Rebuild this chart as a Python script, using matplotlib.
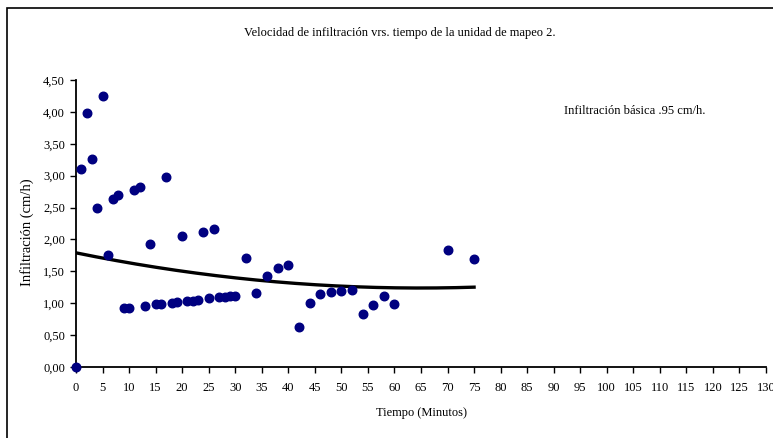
import numpy as np
import matplotlib
matplotlib.use("Agg")
import matplotlib.pyplot as plt
from matplotlib.patches import Rectangle
from matplotlib.ticker import FuncFormatter, MultipleLocator

plt.rcParams['font.family'] = ['Liberation Serif', 'DejaVu Serif']

tiempo = [0, 1, 2, 3, 4, 5, 6, 7, 8, 9, 10, 11, 12, 13, 14, 15, 16, 17, 18, 19,
          20, 21, 22, 23, 24, 25, 26, 27, 28, 29, 30,
          32, 34, 36, 38, 40, 42, 44, 46, 48, 50, 52, 54, 56, 58, 60, 70, 75]
infiltracion = [0.00, 3.11, 3.99, 3.26, 2.50, 4.25, 1.75, 2.64, 2.69, 0.92, 0.92,
                2.77, 2.83, 0.96, 1.93, 0.98, 0.98, 2.98, 1.01, 1.02,
                2.05, 1.04, 1.04, 1.05, 2.12, 1.08, 2.16, 1.10, 1.10, 1.11, 1.12,
                1.71, 1.16, 1.43, 1.56, 1.60, 0.63, 1.01, 1.15, 1.18, 1.19, 1.20,
                0.83, 0.97, 1.12, 0.99, 1.83, 1.69]

# polynomial trendline coefficients (highest power first)
tendencia_coef = [0.000131, -0.0170, 1.79]

titulo = "Velocidad de infiltración vrs. tiempo de la unidad de mapeo 2."
nota = "Infiltración básica .95 cm/h."
xlabel = "Tiempo (Minutos)"
ylabel = "Infiltración (cm/h)"

W, H = 773, 438
fig = plt.figure(figsize=(W / 100, H / 100), dpi=100)
ax = fig.add_axes([76 / W, (H - 367) / H, (766 - 76) / W, (367 - 80) / H])

ax.scatter(tiempo, infiltracion, s=38, color='#000080', zorder=3, clip_on=False)

xs = np.linspace(min(tiempo), max(tiempo), 200)
ax.plot(xs, np.polyval(tendencia_coef, xs), color='black', lw=2.4, zorder=2)

ax.set_xlim(0, 130)
ax.set_ylim(0, 4.5)
ax.xaxis.set_major_locator(MultipleLocator(5))
ax.yaxis.set_major_locator(MultipleLocator(0.5))
ax.yaxis.set_major_formatter(FuncFormatter(lambda v, p: f"{v:.2f}".replace('.', ',')))
for s in ['top', 'right']:
    ax.spines[s].set_visible(False)
for s in ['left', 'bottom']:
    ax.spines[s].set_linewidth(1.3)
ax.tick_params(axis='both', direction='out', length=4, width=1, labelsize=9, pad=4)
ax.tick_params(axis='x', pad=7)

fig.text(400 / W, 1 - 33 / H, titulo, ha='center', va='center', fontsize=9)
fig.text(635 / W, 1 - 111 / H, nota, ha='center', va='center', fontsize=9)
fig.text(421 / W, 1 - 413 / H, xlabel, ha='center', va='center', fontsize=9)
fig.text(27 / W, 1 - 232 / H, ylabel, ha='center', va='center', rotation=90, fontsize=10.5)

fig.patches.append(Rectangle((7 / W, -0.1), 1.2, 1 - 8 / H + 0.1, transform=fig.transFigure,
                             fill=False, edgecolor='black', lw=1.2))

fig.savefig("out.png", dpi=100)
